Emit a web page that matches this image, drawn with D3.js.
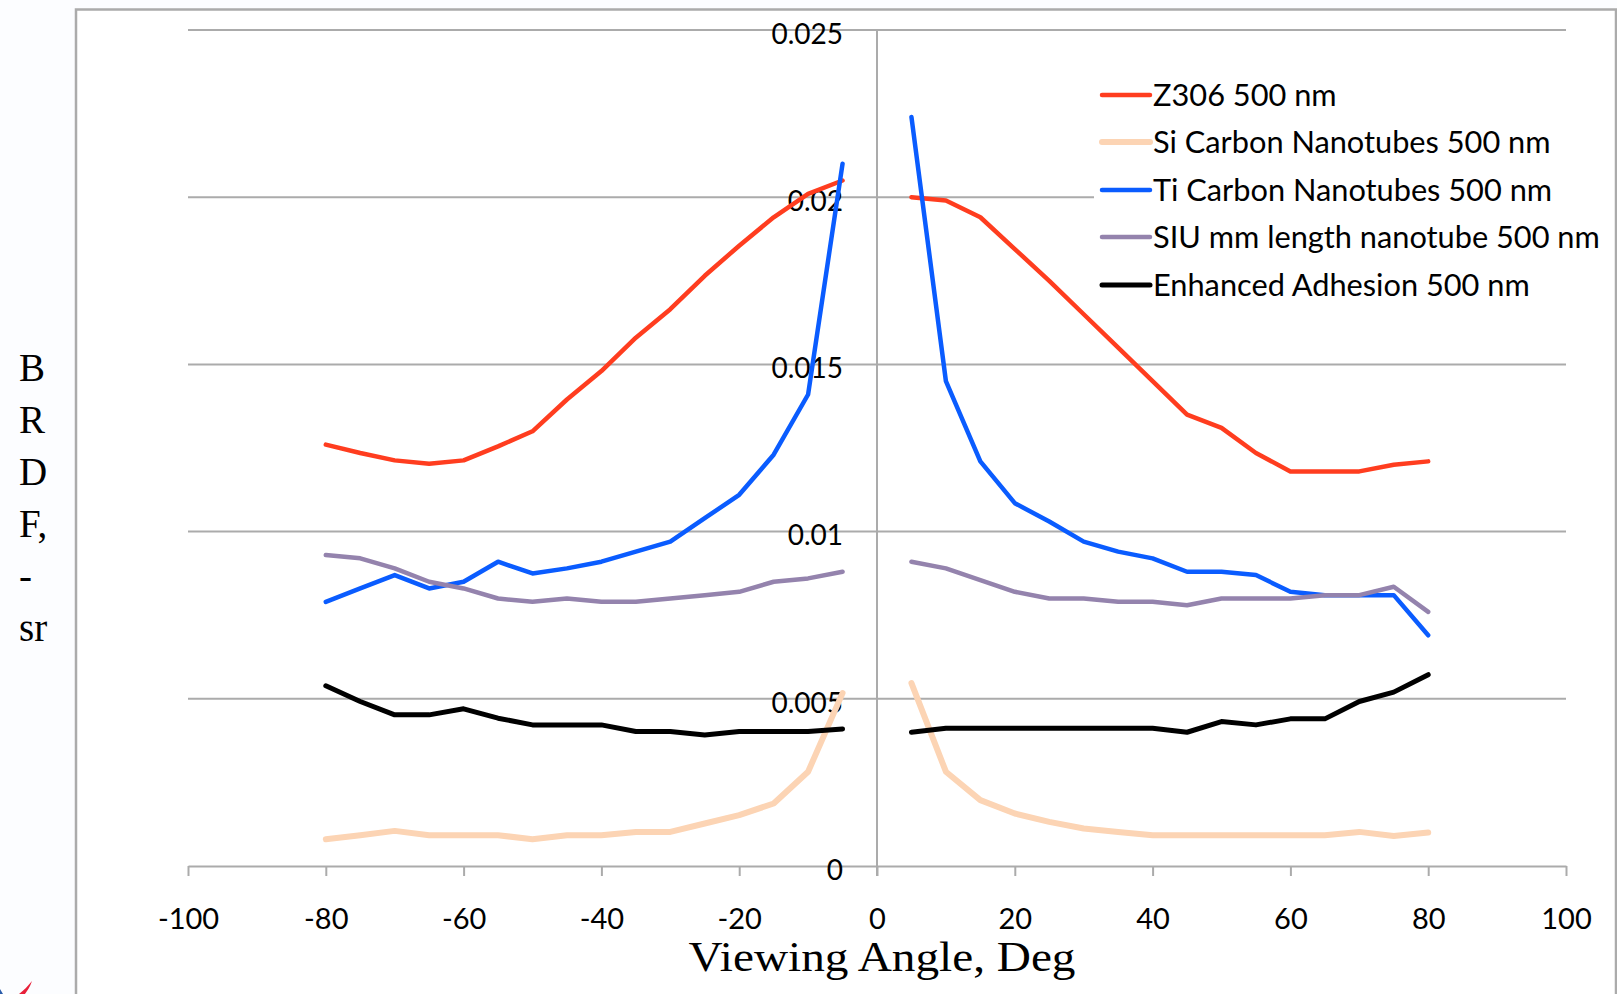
<!DOCTYPE html>
<html>
<head>
<meta charset="utf-8">
<script src="https://cdn.jsdelivr.net/npm/d3@7.9.0/dist/d3.min.js"></script>
<style>
  html, body { margin: 0; padding: 0; background: #fcfdff; }
  svg { display: block; }
</style>
</head>
<body>
<svg id="chart" width="1617" height="994"></svg>
<script>
// viewing angles, deg (no reading at 0)
const angles = [-80, -75, -70, -65, -60, -55, -50, -45, -40, -35, -30, -25, -20, -15, -10, -5,
                5, 10, 15, 20, 25, 30, 35, 40, 45, 50, 55, 60, 65, 70, 75, 80];

const seriesNames = [
    "Z306 500 nm",
    "Si Carbon Nanotubes 500 nm",
    "Ti Carbon Nanotubes 500 nm",
    "SIU mm length nanotube 500 nm",
    "Enhanced Adhesion 500 nm"
];

const z306 = [0.0126, 0.01235, 0.01213, 0.01203, 0.01213, 0.01255, 0.0130, 0.01395, 0.0148, 0.0158, 0.01665, 0.01765, 0.01855, 0.0194, 0.0201, 0.0205,
              0.0200, 0.0199, 0.0194, 0.01845, 0.0175, 0.0165, 0.0155, 0.0145, 0.0135, 0.0131, 0.01235, 0.0118, 0.0118, 0.0118, 0.0120, 0.0121];
const siCnt = [0.0008, 0.00092, 0.00105, 0.00092, 0.00092, 0.00092, 0.0008, 0.00092, 0.00092, 0.00102, 0.00102, 0.00127, 0.00152, 0.00187, 0.00282, 0.00517,
               0.00547, 0.00282, 0.00197, 0.00157, 0.00132, 0.00112, 0.00102, 0.00092, 0.00092, 0.00092, 0.00092, 0.00092, 0.00092, 0.00102, 0.0009, 0.001];
const tiCnt = [0.0079, 0.0083, 0.0087, 0.0083, 0.0085, 0.0091, 0.00875, 0.0089, 0.0091, 0.0094, 0.0097, 0.0104, 0.0111, 0.0123, 0.0141, 0.0210,
               0.0224, 0.0145, 0.0121, 0.01085, 0.0103, 0.0097, 0.0094, 0.0092, 0.0088, 0.0088, 0.0087, 0.0082, 0.0081, 0.0081, 0.0081, 0.0069];
const siuTube = [0.0093, 0.0092, 0.0089, 0.0085, 0.0083, 0.0080, 0.0079, 0.0080, 0.0079, 0.0079, 0.0080, 0.0081, 0.0082, 0.0085, 0.0086, 0.0088,
                 0.0091, 0.0089, 0.00855, 0.0082, 0.0080, 0.0080, 0.0079, 0.0079, 0.0078, 0.0080, 0.0080, 0.0080, 0.0081, 0.0081, 0.00835, 0.0076];
const enhAdh = [0.00539, 0.00492, 0.00452, 0.00452, 0.0047, 0.00442, 0.00422, 0.00422, 0.00422, 0.00402, 0.00402, 0.00392, 0.00402, 0.00402, 0.00402, 0.0041,
                0.0040, 0.00412, 0.00412, 0.00412, 0.00412, 0.00412, 0.00412, 0.00412, 0.0040, 0.00432, 0.00422, 0.0044, 0.0044, 0.00492, 0.0052, 0.00572];

const xTicks = [-100, -80, -60, -40, -20, 0, 20, 40, 60, 80, 100];
const yTicks = [0, 0.005, 0.01, 0.015, 0.02, 0.025];

const seriesValues = [z306, siCnt, tiCnt, siuTube, enhAdh];
const colors = ["#ff3d1f", "#fcd4b4", "#0a5cff", "#9483ad", "#000000"];
const widths = [4.5, 6, 4.5, 4.5, 5];

const svg = d3.select("#chart");
const gray = "#ababab";

// outer frame (slide chart border)
svg.append("path")
    .attr("d", "M76,994 L76,9.5 L1616,9.5 L1616,994")
    .attr("fill", "#fff")
    .attr("stroke", gray)
    .attr("stroke-width", 2.5);

// little logo fragment bottom-left
svg.append("path")
    .attr("d", "M19,994 C24,990 28,986 32,981 C30,987 27,991 25,994 Z")
    .attr("fill", "#e8203a");
svg.append("path")
    .attr("d", "M0,989 L3,994 L0,994 Z")
    .attr("fill", "#2a5caa");

const x = d3.scaleLinear().domain([-100, 100]).range([188, 1566]);
const y = d3.scaleLinear().domain([0, 0.025]).range([866, 30]);

// horizontal gridlines
svg.append("g")
    .selectAll("line")
    .data(yTicks.filter(d => d > 0))
    .join("line")
    .attr("x1", x(-100))
    .attr("x2", x(100))
    .attr("y1", d => y(d))
    .attr("y2", d => y(d))
    .attr("stroke", gray)
    .attr("stroke-width", 2);

// x axis (crosses at 0), plain hyphen for negatives like Excel
const xAxis = svg.append("g")
    .attr("transform", `translate(0,${y(0)})`)
    .call(d3.axisBottom(x).tickValues(xTicks).tickFormat(d => String(d))
        .tickSize(10).tickSizeOuter(0).tickPadding(32));
xAxis.select(".domain").attr("stroke", gray).attr("stroke-width", 2);
xAxis.selectAll(".tick line").attr("stroke", gray).attr("stroke-width", 2);
xAxis.selectAll(".tick text")
    .attr("fill", "#000")
    .style("font-family", "Lato, 'Open Sans', sans-serif")
    .style("font-size", "29px");

// vertical axis at angle 0
svg.append("line")
    .attr("x1", x(0)).attr("x2", x(0))
    .attr("y1", y(0.025)).attr("y2", y(0) + 10)
    .attr("stroke", gray)
    .attr("stroke-width", 2);

// y tick labels, sitting left of the centre axis
svg.append("g")
    .selectAll("text")
    .data(yTicks)
    .join("text")
    .attr("x", x(0) - 34)
    .attr("y", d => y(d) + 4)
    .attr("dy", "0.35em")
    .attr("text-anchor", "end")
    .style("font-family", "Lato, 'Open Sans', sans-serif")
    .style("font-size", "28px")
    .text(d => d === 0 ? "0" : String(+d.toFixed(3)));

// legend background covers the gridline like Excel does
svg.append("rect")
    .attr("x", 1094).attr("y", 62)
    .attr("width", 516).attr("height", 246)
    .attr("fill", "#fff");

// series lines, left and right halves are separate
const line = d3.line()
    .x(d => x(d[0]))
    .y(d => y(d[1]));

seriesValues.forEach((vals, i) => {
    const pts = angles.map((a, j) => [a, vals[j]]);
    const halves = [pts.filter(p => p[0] < 0), pts.filter(p => p[0] > 0)];
    svg.append("g")
        .selectAll("path")
        .data(halves)
        .join("path")
        .attr("d", line)
        .attr("fill", "none")
        .attr("stroke", colors[i])
        .attr("stroke-width", widths[i])
        .attr("stroke-linejoin", "round")
        .attr("stroke-linecap", "round");
});

// legend
const legend = svg.append("g");
const rowY = [95, 142, 190, 237, 285];
seriesNames.forEach((name, i) => {
    legend.append("line")
        .attr("x1", 1102).attr("x2", 1150)
        .attr("y1", rowY[i]).attr("y2", rowY[i])
        .attr("stroke", colors[i])
        .attr("stroke-width", widths[i])
        .attr("stroke-linecap", "round");
    legend.append("text")
        .attr("class", "leg")
        .attr("x", 1153)
        .attr("y", rowY[i])
        .attr("dy", "0.36em")
        .style("font-family", "Lato, 'Open Sans', sans-serif")
        .style("font-size", "28px")
        .text(name);
});
// fit legend font so the longest entry is about as wide as in the picture
let longest = 0;
legend.selectAll("text.leg").each(function () {
    longest = Math.max(longest, this.getComputedTextLength());
});
const fs = 28 * 447 / longest;
legend.selectAll("text.leg").style("font-size", fs + "px");

// axis titles
svg.append("text")
    .attr("x", 882)
    .attr("y", 971)
    .attr("text-anchor", "middle")
    .attr("textLength", 387)
    .attr("lengthAdjust", "spacingAndGlyphs")
    .style("font-family", "'Liberation Serif', 'DejaVu Serif', serif")
    .style("font-size", "42px")
    .text("Viewing Angle, Deg");

const yTitle = ["B", "R", "D", "F,", "-", "sr"];
svg.append("g")
    .selectAll("text")
    .data(yTitle)
    .join("text")
    .attr("x", 19)
    .attr("y", (d, i) => 381 + i * 52)
    .style("font-family", "'Liberation Serif', 'DejaVu Serif', serif")
    .style("font-size", "39px")
    .text(d => d);
</script>
</body>
</html>
